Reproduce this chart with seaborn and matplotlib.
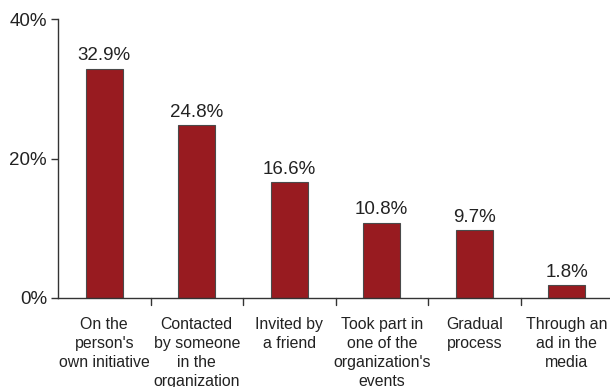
import matplotlib
matplotlib.use("Agg")
import matplotlib.pyplot as plt
import seaborn as sns
import pandas as pd

categories = [
    "On the\nperson's\nown initiative",
    "Contacted\nby someone\nin the\norganization",
    "Invited by\na friend",
    "Took part in\none of the\norganization's\nevents",
    "Gradual\nprocess",
    "Through an\nad in the\nmedia",
]
values = [32.9, 24.8, 16.6, 10.8, 9.7, 1.8]
yticks = [0, 20, 40]
ytick_labels = ["0%", "20%", "40%"]

sns.set_style("white")
plt.rcParams["font.family"] = ["Liberation Sans", "DejaVu Sans"]

df = pd.DataFrame({"category": categories, "value": values})

fig = plt.figure(figsize=(6.10, 3.87), dpi=100)
ax = fig.add_axes([58 / 610, 1 - 298 / 387, 555 / 610, (298 - 19) / 387])

sns.barplot(data=df, x="category", y="value", color="#981B20", width=0.4,
            edgecolor="#4a4a4a", linewidth=0.8, saturation=1, ax=ax)

for i, v in enumerate(values):
    ax.text(i, v + 0.6, f"{v}%", ha="center", va="bottom", fontsize=13.5, color="#222222")

ax.set_ylim(0, 40)
ax.set_xlim(-0.5, len(categories) - 0.5)
ax.set_yticks(yticks)
ax.set_yticklabels(ytick_labels, fontsize=13.5, color="#222222")
ax.set_xticks(range(len(categories)))
ax.set_xticklabels(categories, fontsize=11.4, color="#222222", linespacing=1.32)
ax.tick_params(axis="x", length=0, pad=14)
ax.tick_params(axis="y", length=5, width=1, color="#333333", left=True, pad=3)

# boundary ticks between categories
for b in range(1, len(categories)):
    ax.plot([b - 0.5, b - 0.5], [0, -1.0], color="#333333", lw=1, clip_on=False)

ax.set_xlabel("")
ax.set_ylabel("")
for side in ["top", "right"]:
    ax.spines[side].set_visible(False)
for side in ["left", "bottom"]:
    ax.spines[side].set_color("#333333")
    ax.spines[side].set_linewidth(1)

fig.savefig("out.png", dpi=100)
